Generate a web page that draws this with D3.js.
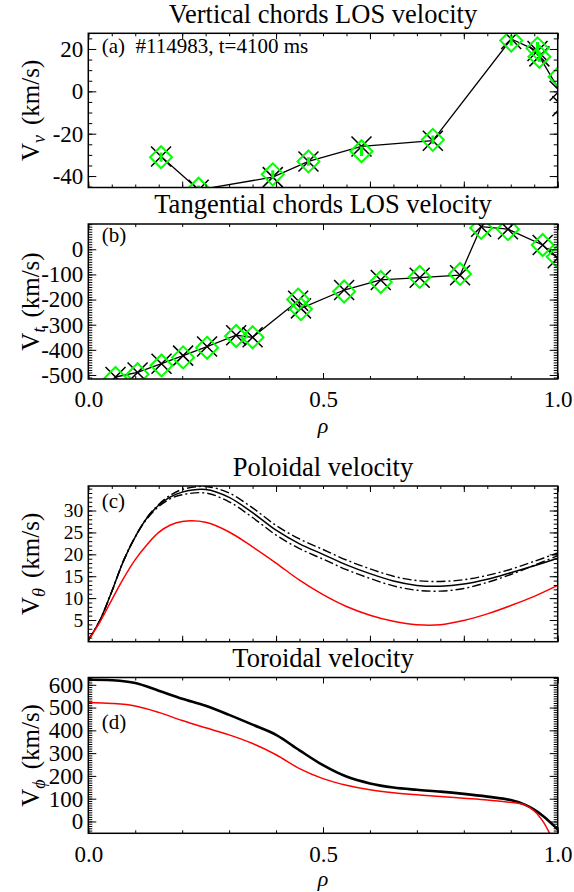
<!DOCTYPE html>
<html>
<head>
<meta charset="utf-8">
<script src="https://cdn.jsdelivr.net/npm/d3@7"></script>
<style>
  body { margin: 0; background: #fff; }
  svg { display: block; font-family: "Liberation Serif", "DejaVu Serif", serif; }
</style>
</head>
<body>
<div id="chart"></div>
<script>
// ---- data ----
// (a) vertical chords: rho, measured (X markers + line), fitted (diamonds), error bar half length
const vertRho  = [0.155, 0.235, 0.393, 0.469, 0.582, 0.734, 0.901, 0.957, 0.961, 1.004, 1.010];
const vertMeas = [-30.8, -46.5, -40.5, -33.1, -26.0, -23.3, 24.7, 19.0, 16.5, 0.3, -7.0];
const vertFit  = [-31.1, -46.0, -39.2, -33.1, -28.3, -22.9, 24.0, 20.3, 16.3, 6.9, null];
const vertErr  = [2.2, 1.5, 2.0, 2.0, 2.2, 2.0, 2.5, 3.0, 2.5, 2.0, null];

// (b) tangential chords
const tanRho  = [0.058, 0.105, 0.156, 0.202, 0.253, 0.315, 0.350, 0.447, 0.453, 0.545, 0.623, 0.706, 0.792, 0.837, 0.894, 0.968, 1.0];
const tanMeas = [-508, -490, -455, -423, -387, -342, -350, -205, -235, -162, -122, -113, -103, 90, 80, 17, -36];
const tanFit  = [-512, -497, -462, -430, -392, -345, -350, -200, -238, -168, -130, -110, -98, 85, 80, 17, -30];

// (c) poloidal velocity profiles
const polRho   = [0, 0.025, 0.05, 0.075, 0.1, 0.125, 0.15, 0.175, 0.2, 0.25, 0.3, 0.35, 0.4, 0.45, 0.5, 0.55, 0.6, 0.65, 0.7, 0.75, 0.8, 0.85, 0.9, 0.95, 1.0];
const polMain  = [0.4, 5.0, 11.5, 18.5, 24.0, 28.3, 31.2, 33.1, 34.2, 34.8, 33.0, 29.5, 25.5, 22.4, 20.0, 17.6, 15.6, 13.9, 12.9, 12.7, 13.2, 14.3, 15.8, 17.4, 19.1];
const polUpper = [0.4, 5.0, 11.5, 18.5, 24.0, 28.4, 31.4, 33.5, 34.8, 35.5, 34.0, 30.6, 26.6, 23.5, 21.1, 18.7, 16.7, 15.0, 14.0, 13.8, 14.2, 15.2, 16.6, 18.4, 20.3];
const polLower = [0.4, 5.0, 11.5, 18.5, 24.0, 28.1, 30.9, 32.7, 33.6, 34.0, 32.0, 28.4, 24.4, 21.3, 18.9, 16.5, 14.5, 12.8, 11.8, 11.6, 12.2, 13.6, 15.4, 17.5, 19.7];
const polRed   = [0.4, 4.6, 9.6, 14.5, 18.8, 22.2, 25.0, 26.7, 27.5, 27.3, 25.1, 21.7, 18.0, 14.1, 10.8, 8.1, 6.1, 4.7, 3.9, 3.9, 4.9, 6.4, 8.3, 10.4, 12.9];

// (d) toroidal velocity profiles
const torRho  = [0, 0.05, 0.1, 0.15, 0.2, 0.25, 0.3, 0.35, 0.4, 0.45, 0.5, 0.55, 0.6, 0.65, 0.7, 0.75, 0.8, 0.85, 0.9, 0.93, 0.95, 0.97, 0.99, 1.0];
const torMain = [622, 620, 608, 574, 539, 508, 468, 425, 380, 312, 247, 197, 167, 149, 139, 131, 121, 109, 94, 74, 52, 22, -15, -35];
const torRed  = [522, 518, 507, 479, 443, 411, 380, 342, 293, 232, 188, 159, 139, 126, 117, 110, 102, 94, 84, 73, 46, -4, -80, -110];

// tick labels
const rhoLabels = [0, 0.5, 1.0];
const vertTicks = [-40, -20, 0, 20];
const tanTicks  = [-500, -400, -300, -200, -100, 0];
const polTicks  = [5, 10, 15, 20, 25, 30];
const torTicks  = [0, 100, 200, 300, 400, 500, 600];

// ---- layout ----
const WIDTH = 574, HEIGHT = 892;
const LEFT = 88.3, RIGHT = 557.7;
const FONT = "'Liberation Serif', 'DejaVu Serif', serif";
const GREEN = "#00ff00", RED = "#ff0000";

const svg = d3.select("#chart").append("svg")
    .attr("width", WIDTH)
    .attr("height", HEIGHT)
    .style("font-family", FONT);

const x = d3.scaleLinear().domain([0, 1]).range([0, RIGHT - LEFT]);

function panel(cfg) {
    const h = cfg.bottom - cfg.top;
    const w = RIGHT - LEFT;
    const y = d3.scaleLinear().domain(cfg.ydom).range([h, 0]);
    const g = svg.append("g").attr("transform", `translate(${LEFT},${cfg.top})`);

    g.append("clipPath").attr("id", "clip-" + cfg.id)
        .append("rect").attr("width", w).attr("height", h);

    const data = g.append("g").attr("clip-path", `url(#clip-${cfg.id})`);

    // x ticks, bottom and top
    const fmt = d3.format(".1f");
    const axes = [
        [d3.axisBottom(x).tickValues(cfg.xMajor).tickSize(-6).tickPadding(12)
            .tickFormat(cfg.xLabels ? fmt : ""), h],
        [d3.axisBottom(x).tickValues(cfg.xMinor).tickSize(-3).tickFormat(""), h],
        [d3.axisTop(x).tickValues(cfg.xMajor).tickSize(-6).tickFormat(""), 0],
        [d3.axisTop(x).tickValues(cfg.xMinor).tickSize(-3).tickFormat(""), 0]
    ];
    axes.forEach(([ax, ty]) => {
        g.append("g").attr("transform", `translate(0,${ty})`).call(ax);
    });
    const yAxes = [
        [d3.axisLeft(y).tickValues(cfg.yMajor).tickSize(-8).tickPadding(5).tickFormat(d => String(d)), 0],
        [d3.axisLeft(y).tickValues(cfg.yMinor).tickSize(-4).tickFormat(""), 0],
        [d3.axisRight(y).tickValues(cfg.yMajor).tickSize(-8).tickFormat(""), w],
        [d3.axisRight(y).tickValues(cfg.yMinor).tickSize(-4).tickFormat(""), w]
    ];
    yAxes.forEach(([ax, tx]) => {
        g.append("g").attr("transform", `translate(${tx},0)`).call(ax);
    });
    g.selectAll(".domain").remove();
    g.selectAll("g").attr("font-family", null).attr("font-size", null);
    g.selectAll(".tick line").attr("stroke", "#000").attr("stroke-width", 1);
    g.selectAll(".tick text")
        .attr("fill", "#000")
        .style("font-family", FONT)
        .style("font-size", (cfg.tickFont || 23) + "px");

    g.append("rect")
        .attr("width", w).attr("height", h)
        .attr("fill", "none").attr("stroke", "#000").attr("stroke-width", 1.5);

    // title
    svg.append("text")
        .attr("x", LEFT + w / 2).attr("y", cfg.titleY)
        .attr("text-anchor", "middle")
        .style("font-size", "26.5px")
        .text(cfg.title);

    // panel tag
    svg.append("text")
        .attr("x", 101.7).attr("y", cfg.tagY)
        .style("font-size", "21px")
        .style("white-space", "pre")
        .text(cfg.tag);

    // y label
    const yl = svg.append("text")
        .attr("transform", `translate(39,${cfg.top + h / 2}) rotate(-90)`)
        .attr("text-anchor", "middle")
        .style("font-size", "25px");
    yl.append("tspan").text("V");
    yl.append("tspan").attr("dy", 6).style("font-size", "18px").style("font-style", "italic").text(cfg.sub);
    yl.append("tspan").attr("dy", -6).attr("dx", 10).text("(km/s)");

    if (cfg.xLabels) {
        svg.append("text")
            .attr("x", LEFT + w / 2).attr("y", cfg.rhoY)
            .attr("text-anchor", "middle")
            .style("font-size", "22px")
            .style("font-style", "italic")
            .text("ρ");
    }
    return { g: data, y };
}

const fineRho = d3.range(0, 1.0001, 0.05);
const tenthRho = d3.range(0, 1.0001, 0.1);
const fifthRho = d3.range(0, 1.0001, 0.2);

function chordPanel(p, rho, meas, fit, err) {
    const pts = rho.map((r, i) => ({ r, m: meas[i], f: fit[i], e: err ? err[i] : null }));
    p.g.append("path")
        .datum(pts)
        .attr("fill", "none").attr("stroke", "#000").attr("stroke-width", 1.3)
        .attr("d", d3.line().x(d => x(d.r)).y(d => p.y(d.m)));
    p.g.selectAll("path.cross").data(pts).enter().append("path")
        .attr("class", "cross")
        .attr("transform", d => `translate(${x(d.r)},${p.y(d.m)})`)
        .attr("d", "M-10,-10L10,10M-10,10L10,-10")
        .attr("stroke", "#000").attr("stroke-width", 1.5);
    const fitted = pts.filter(d => d.f !== null);
    p.g.selectAll("path.diamond").data(fitted).enter().append("path")
        .attr("class", "diamond")
        .attr("transform", d => `translate(${x(d.r)},${p.y(d.f)})`)
        .attr("d", "M0,-11L11,0L0,11L-11,0Z")
        .attr("fill", "none").attr("stroke", GREEN).attr("stroke-width", 2);
    if (err) {
        p.g.selectAll("line.err").data(fitted.filter(d => d.e !== null)).enter().append("line")
            .attr("class", "err")
            .attr("x1", d => x(d.r)).attr("x2", d => x(d.r))
            .attr("y1", d => p.y(d.f - d.e)).attr("y2", d => p.y(d.f + d.e))
            .attr("stroke", GREEN).attr("stroke-width", 3);
    }
}

// (a)
const pa = panel({
    id: "a", top: 33.3, bottom: 187.5, ydom: [-45.4, 27.4],
    yMajor: vertTicks, yMinor: d3.range(-45, 27.5, 5),
    xMajor: fifthRho, xMinor: fineRho, xLabels: false,
    title: "Vertical chords LOS velocity", titleY: 23,
    tag: "(a)  #114983, t=4100 ms", tagY: 53, sub: "v"
});
chordPanel(pa, vertRho, vertMeas, vertFit, vertErr);

// (b)
const pb = panel({
    id: "b", top: 224, bottom: 379, ydom: [-516, 100.6],
    yMajor: tanTicks, yMinor: d3.range(-510, 101, 10),
    xMajor: rhoLabels, xMinor: tenthRho, xLabels: true, rhoY: 433,
    title: "Tangential chords LOS velocity", titleY: 213,
    tag: "(b)", tagY: 241.5, sub: "t"
});
chordPanel(pb, tanRho, tanMeas, tanFit, null);

// (c)
const pc = panel({
    id: "c", top: 486, bottom: 641.7, ydom: [0.05, 35.6],
    yMajor: polTicks, yMinor: d3.range(1, 35.6, 1),
    xMajor: fifthRho, xMinor: fineRho, xLabels: false, tickFont: 19.5,
    title: "Poloidal velocity", titleY: 476,
    tag: "(c)", tagY: 508, sub: "θ"
});
const polLine = vals => d3.line().curve(d3.curveCatmullRom.alpha(0.5))
    .x((d, i) => x(polRho[i])).y(d => pc.y(d))(vals);
pc.g.append("path").attr("d", polLine(polUpper))
    .attr("fill", "none").attr("stroke", "#000").attr("stroke-width", 1.4).attr("stroke-dasharray", "9,3,2,3");
pc.g.append("path").attr("d", polLine(polLower))
    .attr("fill", "none").attr("stroke", "#000").attr("stroke-width", 1.4).attr("stroke-dasharray", "9,3,2,3");
pc.g.append("path").attr("d", polLine(polMain))
    .attr("fill", "none").attr("stroke", "#000").attr("stroke-width", 1.5);
pc.g.append("path").attr("d", polLine(polRed))
    .attr("fill", "none").attr("stroke", RED).attr("stroke-width", 1.5);

// (d)
const pd = panel({
    id: "d", top: 677.5, bottom: 833.3, ydom: [-52, 632],
    yMajor: torTicks, yMinor: d3.range(-50, 632, 10),
    xMajor: rhoLabels, xMinor: tenthRho, xLabels: true, rhoY: 886,
    title: "Toroidal velocity", titleY: 667,
    tag: "(d)", tagY: 729, sub: "ϕ"
});
const torLine = vals => d3.line().curve(d3.curveCatmullRom.alpha(0.5))
    .x((d, i) => x(torRho[i])).y(d => pd.y(d))(vals);
pd.g.append("path").attr("d", torLine(torMain))
    .attr("fill", "none").attr("stroke", "#000").attr("stroke-width", 2.6);
pd.g.append("path").attr("d", torLine(torRed))
    .attr("fill", "none").attr("stroke", RED).attr("stroke-width", 1.5);
</script>
</body>
</html>
